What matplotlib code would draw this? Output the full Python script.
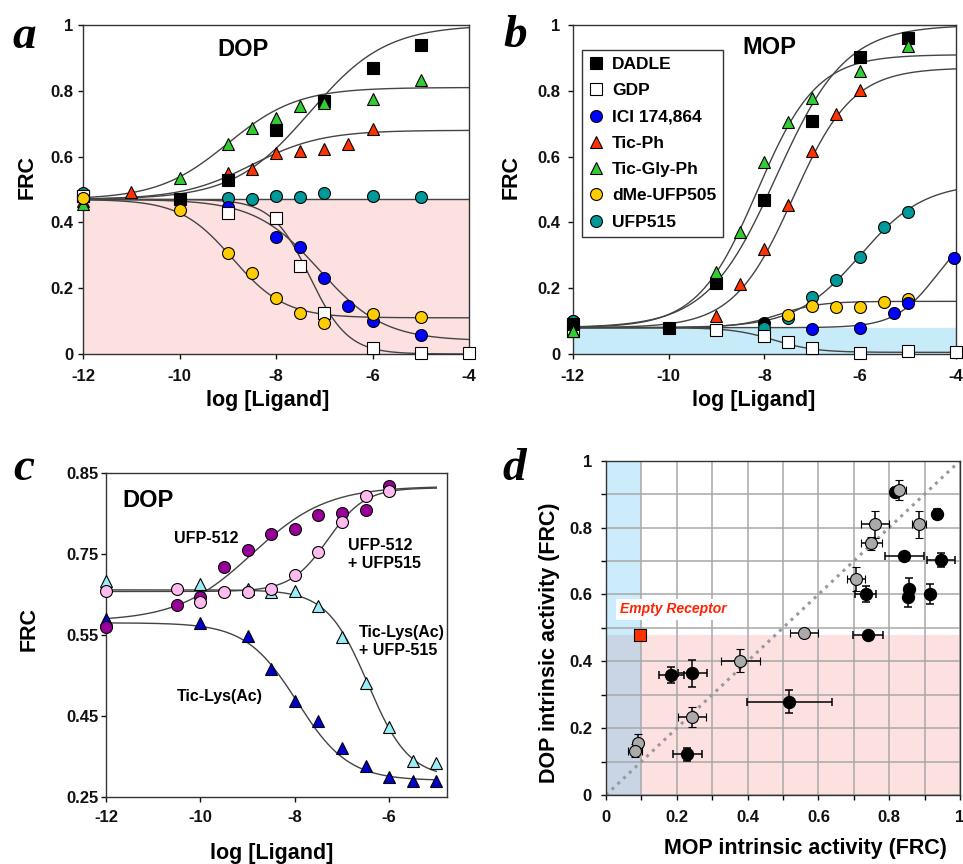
import numpy as np
import matplotlib
matplotlib.use('Agg')
import matplotlib.pyplot as plt
from matplotlib.patches import Rectangle
from matplotlib.lines import Line2D

plt.rcParams['font.family'] = ['Liberation Sans', 'DejaVu Sans']
plt.rcParams['font.weight'] = 'bold'
plt.rcParams['axes.labelweight'] = 'bold'

# ---------------- data ----------------
# Panel a (DOP)
a_dadle_x = [-12, -10, -9, -8, -7, -6, -5]
a_dadle_y = [0.48, 0.47, 0.53, 0.68, 0.77, 0.87, 0.94]
a_gdp_x = [-12, -9, -8, -7.5, -7, -6, -5, -4]
a_gdp_y = [0.48, 0.428, 0.412, 0.267, 0.126, 0.019, 0.004, 0.004]
a_ici_x = [-12, -9, -8, -7.5, -7, -6.5, -6, -5]
a_ici_y = [0.475, 0.448, 0.355, 0.324, 0.23, 0.146, 0.101, 0.059]
a_ticph_x = [-12, -11, -9, -8.5, -8, -7.5, -7, -6.5, -6]
a_ticph_y = [0.465, 0.492, 0.55, 0.561, 0.611, 0.616, 0.622, 0.637, 0.683]
a_ticgly_x = [-12, -10, -9, -8.5, -8, -7.5, -7, -6, -5]
a_ticgly_y = [0.455, 0.536, 0.638, 0.687, 0.718, 0.754, 0.764, 0.776, 0.832]
a_dme_x = [-12, -10, -9, -8.5, -8, -7.5, -7, -6, -5]
a_dme_y = [0.475, 0.438, 0.308, 0.247, 0.171, 0.124, 0.095, 0.122, 0.111]
a_ufp515_x = [-12, -9, -8.5, -8, -7.5, -7, -6, -5]
a_ufp515_y = [0.49, 0.473, 0.471, 0.48, 0.478, 0.49, 0.48, 0.476]

# fitted curve parameters (start, end, logEC50, Hill) - panel a
a_fit_names = ['DADLE', 'GDP', 'ICI', 'TicPh', 'TicGly', 'dMe', 'UFP515']
a_fit_start = [0.47, 0.47, 0.47, 0.47, 0.47, 0.47, 0.47]
a_fit_end = [1.0, 0.0, 0.04, 0.68, 0.81, 0.11, 0.47]
a_fit_ec50 = [-7.3, -7.3, -7.1, -8.5, -9.0, -8.9, -8.0]
a_fit_hill = [0.55, 1.1, 0.65, 0.6, 0.6, 0.8, 1.0]

# Panel b (MOP)
b_dadle_x = [-12, -10, -9, -8, -7, -6, -5]
b_dadle_y = [0.09, 0.08, 0.217, 0.468, 0.709, 0.902, 0.962]
b_gdp_x = [-12, -9, -8, -7.5, -7, -6, -5, -4]
b_gdp_y = [0.07, 0.073, 0.055, 0.035, 0.019, 0.004, 0.01, 0.007]
b_ici_x = [-12, -7, -6, -5.3, -5, -4.05]
b_ici_y = [0.08, 0.076, 0.08, 0.124, 0.156, 0.293]
b_ticph_x = [-12, -9, -8.5, -8, -7.5, -7, -6.5, -6]
b_ticph_y = [0.07, 0.115, 0.213, 0.318, 0.453, 0.617, 0.729, 0.802]
b_ticgly_x = [-12, -9, -8.5, -8, -7.5, -7, -6, -5]
b_ticgly_y = [0.07, 0.25, 0.37, 0.583, 0.706, 0.779, 0.86, 0.936]
b_dme_x = [-12, -7.5, -7, -6.5, -6, -5.5, -5]
b_dme_y = [0.08, 0.12, 0.146, 0.142, 0.142, 0.159, 0.166]
b_ufp515_x = [-12, -8, -7.5, -7, -6.5, -6, -5.5, -5]
b_ufp515_y = [0.1, 0.078, 0.108, 0.172, 0.225, 0.296, 0.385, 0.433]
b_extra_x = [-12, -8]
b_extra_y = [0.10, 0.095]

b_fit_start = [0.08, 0.08, 0.08, 0.08, 0.08, 0.08, 0.08]
b_fit_end = [1.0, 0.005, 0.40, 0.87, 0.91, 0.16, 0.52]
b_fit_ec50 = [-7.75, -7.8, -4.4, -7.4, -8.15, -7.7, -6.0]
b_fit_hill = [0.6, 1.0, 1.0, 0.7, 0.7, 1.0, 0.65]

# Panel c (DOP)
c_ufp512_x = [-12, -10.5, -10, -9.5, -9, -8.5, -8, -7.5, -7, -6.5, -6]
c_ufp512_y = [0.565, 0.605, 0.619, 0.676, 0.706, 0.736, 0.746, 0.772, 0.775, 0.781, 0.825]
c_ufp512_515_x = [-12, -10.5, -10, -9.5, -9, -8.5, -8, -7.5, -7, -6.5, -6]
c_ufp512_515_y = [0.631, 0.634, 0.611, 0.630, 0.630, 0.634, 0.660, 0.704, 0.759, 0.807, 0.817]
c_ticlys_515_x = [-12, -10, -9, -8.5, -8, -7.5, -7, -6.5, -6, -5.5, -5]
c_ticlys_515_y = [0.65, 0.643, 0.634, 0.629, 0.631, 0.604, 0.545, 0.46, 0.38, 0.317, 0.313]
c_ticlys_x = [-12, -10, -9, -8.5, -8, -7.5, -7, -6.5, -6, -5.5, -5]
c_ticlys_y = [0.58, 0.571, 0.548, 0.486, 0.427, 0.39, 0.341, 0.306, 0.287, 0.28, 0.28]

c_fit_start = [0.575, 0.63, 0.633, 0.572]
c_fit_end = [0.825, 0.822, 0.285, 0.28]
c_fit_ec50 = [-8.9, -7.3, -6.45, -7.95]
c_fit_hill = [0.55, 1.1, 1.0, 0.8]
c_ytick_pos = [0.25, 0.40, 0.55, 0.70, 0.85]
c_ytick_labels = ['0.25', '0.45', '0.55', '0.75', '0.85']

# Panel d (MOP vs DOP intrinsic activity)
d_black_x = [0.816, 0.936, 0.842, 0.946, 0.734, 0.857, 0.854, 0.915, 0.741, 0.185, 0.244, 0.518, 0.23]
d_black_y = [0.907, 0.84, 0.715, 0.703, 0.601, 0.615, 0.593, 0.601, 0.479, 0.359, 0.364, 0.279, 0.122]
d_black_xerr = [0.01, 0.008, 0.055, 0.04, 0.03, 0.005, 0.005, 0.01, 0.042, 0.035, 0.04, 0.12, 0.04]
d_black_yerr = [0.01, 0.015, 0.005, 0.02, 0.025, 0.035, 0.03, 0.03, 0.005, 0.025, 0.04, 0.035, 0.02]
d_gray_x = [0.828, 0.76, 0.885, 0.749, 0.706, 0.559, 0.379, 0.243, 0.091, 0.082]
d_gray_y = [0.912, 0.81, 0.81, 0.753, 0.646, 0.486, 0.402, 0.232, 0.157, 0.133]
d_gray_xerr = [0.02, 0.04, 0.02, 0.03, 0.025, 0.04, 0.055, 0.04, 0.005, 0.02]
d_gray_yerr = [0.03, 0.04, 0.04, 0.02, 0.035, 0.005, 0.035, 0.03, 0.025, 0.02]
d_empty_x = [0.097]
d_empty_y = [0.48]

# ---------------- helpers ----------------
W, H = 963, 864
fig = plt.figure(figsize=(W / 100, H / 100), dpi=100)


def px_axes(l, t, r, b):
    return fig.add_axes([l / W, 1 - b / H, (r - l) / W, (b - t) / H])


def sigm(x, start, end, ec, h):
    return start + (end - start) / (1 + 10 ** ((ec - x) * h))


def mk(ax, x, y, marker, fc, ms=8.6, z=3):
    ax.plot(x, y, ls='none', marker=marker, mfc=fc, mec='black', mew=0.8,
            ms=ms, clip_on=False, zorder=z)


def style(ax, xpad, ypad):
    for s in ax.spines.values():
        s.set_color('#333333')
        s.set_linewidth(1.0)
    ax.tick_params(direction='out', length=3.6, width=1, labelsize=12, colors='#111111')
    ax.tick_params(axis='x', pad=xpad)
    ax.tick_params(axis='y', pad=ypad)


letter_font = dict(family='Liberation Serif', weight='bold', style='italic', fontsize=34)
lab_fs = 15.5

blk, wht, blu, red, grn, yel, tea = '#000000', '#ffffff', '#0000ff', '#ff3300', '#33cc33', '#ffcc00', '#009999'

# ---------------- panel a ----------------
ax = px_axes(83, 25, 469, 354)
ax.set_xlim(-12, -4)
ax.set_ylim(0, 1)
ax.axhspan(0, 0.47, color='#fde0e0', zorder=0)
xs = np.linspace(-12, -4, 400)
for s, e, ec, h in zip(a_fit_start, a_fit_end, a_fit_ec50, a_fit_hill):
    ax.plot(xs, sigm(xs, s, e, ec, h), color='#444444', lw=1.0, zorder=2)
mk(ax, a_ufp515_x, a_ufp515_y, 'o', tea)
mk(ax, a_ticph_x, a_ticph_y, '^', red, ms=9)
mk(ax, a_dadle_x, a_dadle_y, 's', blk, ms=8.3)
mk(ax, a_ticgly_x, a_ticgly_y, '^', grn, ms=9)
mk(ax, a_ici_x, a_ici_y, 'o', blu)
mk(ax, a_gdp_x, a_gdp_y, 's', wht, ms=8.3)
mk(ax, a_dme_x, a_dme_y, 'o', yel)
ax.set_xticks([-12, -10, -8, -6, -4])
ax.set_xticklabels(['-12', '-10', '-8', '-6', '-4'])
ax.set_yticks([0, 0.2, 0.4, 0.6, 0.8, 1])
ax.set_yticklabels(['0', '0.2', '0.4', '0.6', '0.8', '1'])
style(ax, 7, 3.6)
ax.set_xlabel('log [Ligand]', fontsize=lab_fs)
ax.set_ylabel('FRC', fontsize=lab_fs)
ax.xaxis.set_label_coords(0.479, -0.109)
ax.yaxis.set_label_coords(-0.117, 0.538)
ax.text(0.415, 0.927, 'DOP', transform=ax.transAxes, fontsize=17, ha='center', va='center')
fig.text(12 / W, 1 - 48 / H, 'a', ha='left', va='baseline', **letter_font)

# ---------------- panel b ----------------
ax = px_axes(572.7, 25, 956, 354)
ax.set_xlim(-12, -4)
ax.set_ylim(0, 1)
ax.axhspan(0, 0.078, color='#c8ebfa', zorder=0)
for s, e, ec, h in zip(b_fit_start, b_fit_end, b_fit_ec50, b_fit_hill):
    ax.plot(xs, sigm(xs, s, e, ec, h), color='#444444', lw=1.0, zorder=2)
mk(ax, b_extra_x, b_extra_y, 'o', blk)
mk(ax, b_ufp515_x, b_ufp515_y, 'o', tea)
mk(ax, b_dme_x, b_dme_y, 'o', yel)
mk(ax, b_ici_x, b_ici_y, 'o', blu)
mk(ax, b_gdp_x, b_gdp_y, 's', wht, ms=8.3)
mk(ax, b_ticph_x, b_ticph_y, '^', red, ms=9)
mk(ax, b_dadle_x, b_dadle_y, 's', blk, ms=8.3)
mk(ax, b_ticgly_x, b_ticgly_y, '^', grn, ms=9)
ax.set_xticks([-12, -10, -8, -6, -4])
ax.set_xticklabels(['-12', '-10', '-8', '-6', '-4'])
ax.set_yticks([0, 0.2, 0.4, 0.6, 0.8, 1])
ax.set_yticklabels(['0', '0.2', '0.4', '0.6', '0.8', '1'])
style(ax, 7, 5.5)
ax.set_xlabel('log [Ligand]', fontsize=lab_fs)
ax.set_ylabel('FRC', fontsize=lab_fs)
ax.xaxis.set_label_coords(0.472, -0.109)
ax.yaxis.set_label_coords(-0.132, 0.538)
ax.text(0.512, 0.933, 'MOP', transform=ax.transAxes, fontsize=17, ha='center', va='center')
fig.text(503 / W, 1 - 47 / H, 'b', ha='left', va='baseline', **letter_font)

leg_labels = ['DADLE', 'GDP', 'ICI 174,864', 'Tic-Ph', 'Tic-Gly-Ph', 'dMe-UFP505', 'UFP515']
leg_markers = ['s', 's', 'o', '^', '^', 'o', 'o']
leg_colors = [blk, wht, blu, red, grn, yel, tea]
handles = [Line2D([], [], ls='none', marker=m, mfc=c, mec='black', mew=0.8, ms=8.6)
           for m, c in zip(leg_markers, leg_colors)]
leg = ax.legend(handles, leg_labels, loc='upper left', bbox_to_anchor=(0.0235, 0.924),
                borderaxespad=0, frameon=True, fancybox=False, framealpha=1,
                edgecolor='#333333', prop=dict(family='Liberation Sans', weight='bold', size=12.5),
                borderpad=0.4, handlelength=0.9, handletextpad=0.45, labelspacing=0.64)
leg.get_frame().set_linewidth(1.0)

# ---------------- panel c ----------------
ax = px_axes(106, 472.7, 446.7, 796.7)
ax.set_xlim(-12, -4.78)
ax.set_ylim(0.25, 0.85)
xc = np.linspace(-12, -5, 400)
for s, e, ec, h in zip(c_fit_start, c_fit_end, c_fit_ec50, c_fit_hill):
    ax.plot(xc, sigm(xc, s, e, ec, h), color='#444444', lw=1.0, zorder=2)
mk(ax, c_ticlys_515_x, c_ticlys_515_y, '^', '#99eef5', ms=9)
mk(ax, c_ticlys_x, c_ticlys_y, '^', '#0000cc', ms=9)
mk(ax, c_ufp512_x, c_ufp512_y, 'o', '#990099')
mk(ax, c_ufp512_515_x, c_ufp512_515_y, 'o', '#ffbbee')
ax.set_xticks([-12, -10, -8, -6])
ax.set_xticklabels(['-12', '-10', '-8', '-6'])
ax.set_yticks(c_ytick_pos)
ax.set_yticklabels(c_ytick_labels)
style(ax, 6, 1.5)
ax.set_xlabel('log [Ligand]', fontsize=lab_fs)
ax.set_ylabel('FRC', fontsize=lab_fs)
ax.xaxis.set_label_coords(0.487, -0.142)
ax.yaxis.set_label_coords(-0.194, 0.518)
ax.text(0.122, 0.913, 'DOP', transform=ax.transAxes, fontsize=17, ha='center', va='center')
ax.text(0.2935, 0.797, 'UFP-512', transform=ax.transAxes, fontsize=11.5, ha='center', va='center')
ax.text(0.710, 0.746, 'UFP-512\n+ UFP515', transform=ax.transAxes, fontsize=11.5,
        ha='left', va='center', linespacing=1.25)
ax.text(0.743, 0.479, 'Tic-Lys(Ac)\n+ UFP-515', transform=ax.transAxes, fontsize=11.5,
        ha='left', va='center', linespacing=1.25)
ax.text(0.335, 0.308, 'Tic-Lys(Ac)', transform=ax.transAxes, fontsize=11.5, ha='center', va='center')
fig.text(13 / W, 1 - 480 / H, 'c', ha='left', va='baseline', **letter_font)

# ---------------- panel d ----------------
ax = px_axes(606, 460.7, 960, 795)
ax.set_xlim(0, 1)
ax.set_ylim(0, 1)
ax.add_patch(Rectangle((0, 0.48), 0.1, 0.52, facecolor='#ccecfb', edgecolor='none', zorder=0.2))
ax.add_patch(Rectangle((0, 0), 0.1, 0.48, facecolor='#c9d4e4', edgecolor='none', zorder=0.2))
ax.add_patch(Rectangle((0.1, 0), 0.9, 0.48, facecolor='#fde0e0', edgecolor='none', zorder=0.2))
ax.set_xticks([0, 0.2, 0.4, 0.6, 0.8, 1])
ax.set_xticklabels(['0', '0.2', '0.4', '0.6', '0.8', '1'])
ax.set_yticks([0, 0.2, 0.4, 0.6, 0.8, 1])
ax.set_yticklabels(['0', '0.2', '0.4', '0.6', '0.8', '1'])
ax.set_xticks([0.1, 0.3, 0.5, 0.7, 0.9], minor=True)
ax.set_yticks([0.1, 0.3, 0.5, 0.7, 0.9], minor=True)
ax.set_axisbelow(True)
ax.grid(which='both', color='#a8a8a8', lw=1.1)
ax.plot([0, 1], [0, 1], ls=(0, (1, 1.6)), color='#999999', lw=2.2, zorder=1)
style(ax, 7, 6.5)
ax.tick_params(which='minor', direction='out', length=3.6, width=1)
ax.errorbar(d_black_x, d_black_y, xerr=d_black_xerr, yerr=d_black_yerr, fmt='o',
            mfc='black', mec='black', ms=8.6, ecolor='black', elinewidth=1.1, capsize=3,
            capthick=1.1, zorder=3)
ax.errorbar(d_gray_x, d_gray_y, xerr=d_gray_xerr, yerr=d_gray_yerr, fmt='o',
            mfc='#aaaaaa', mec='black', mew=0.8, ms=8.6, ecolor='black', elinewidth=1.1,
            capsize=3, capthick=1.1, zorder=4)
ax.plot(d_empty_x, d_empty_y, ls='none', marker='s', mfc='#ff3300', mec='black', mew=0.8,
        ms=8, zorder=5)
ax.text(0.189, 0.556, 'Empty Receptor', fontsize=10, color='#ff2200', style='italic',
        ha='center', va='center', zorder=6,
        bbox=dict(facecolor='white', edgecolor='none', pad=2.5))
ax.set_xlabel('MOP intrinsic activity (FRC)', fontsize=lab_fs)
ax.set_ylabel('DOP intrinsic activity (FRC)', fontsize=lab_fs)
ax.xaxis.set_label_coords(0.562, -0.129)
ax.yaxis.set_label_coords(-0.130, 0.455)
fig.text(502 / W, 1 - 480 / H, 'd', ha='left', va='baseline', **letter_font)

fig.savefig('out.png', dpi=100)
